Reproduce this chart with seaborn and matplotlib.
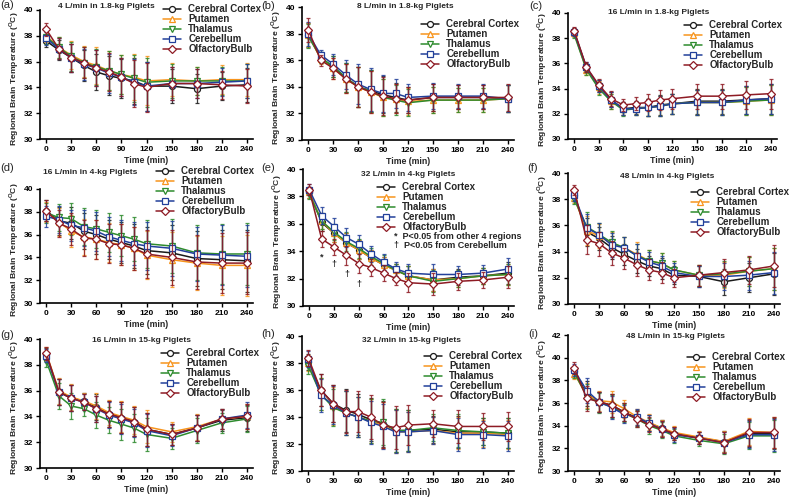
import numpy as np
import pandas as pd
import matplotlib
matplotlib.use("Agg")
import matplotlib.pyplot as plt
from matplotlib.lines import Line2D
import seaborn as sns

# ---------------- data ----------------
times = [0, 15, 30, 45, 60, 75, 90, 105, 120, 150, 180, 210, 240]
xticks = [0, 30, 60, 90, 120, 150, 180, 210, 240]
regions = ["Cerebral Cortex", "Putamen", "Thalamus", "Cerebellum", "OlfactoryBulb"]
titles = ["4 L/min in 1.8-kg Piglets", "8 L/min in 1.8-kg Piglets", "16 L/min in 1.8-kg Piglets",
          "16 L/min in 4-kg Piglets", "32 L/min in 4-kg Piglets", "48 L/min in 4-kg Piglets",
          "16 L/min in 15-kg Piglets", "32 L/min in 15-kg Piglets", "48 L/min in 15-kg Piglets"]
panel_tags = ["(a)", "(b)", "(c)", "(d)", "(e)", "(f)", "(g)", "(h)", "(i)"]

# (a) 4 L/min, 1.8 kg
a_cortex = [37.6, 36.9, 36.3, 35.7, 35.2, 34.9, 34.7, 34.5, 34.1, 34.1, 33.9, 34.1, 34.2]
a_putamen = [38.0, 37.1, 36.5, 36.0, 35.7, 35.3, 35.0, 34.8, 34.5, 34.6, 34.5, 34.6, 34.6]
a_thalamus = [37.9, 37.1, 36.4, 35.9, 35.6, 35.3, 35.0, 34.7, 34.4, 34.5, 34.5, 34.5, 34.5]
a_cerebellum = [37.8, 37.0, 36.3, 35.8, 35.5, 35.1, 34.8, 34.4, 34.1, 34.3, 34.3, 34.4, 34.5]
a_olfactory = [38.5, 37.0, 36.3, 35.9, 35.5, 35.2, 34.8, 34.3, 34.0, 34.3, 34.3, 34.2, 34.1]
a_sd = [0.5, 0.8, 1.1, 1.2, 1.4, 1.5, 1.5, 1.8, 1.9, 1.3, 1.1, 1.1, 1.3]

# (b) 8 L/min, 1.8 kg
b_cortex = [37.9, 36.2, 35.5, 34.7, 34.0, 33.7, 33.4, 33.2, 33.0, 33.2, 33.2, 33.2, 33.1]
b_putamen = [37.9, 36.1, 35.4, 34.6, 34.0, 33.6, 33.2, 33.1, 32.9, 33.0, 33.0, 33.0, 33.1]
b_thalamus = [37.8, 36.2, 35.5, 34.7, 34.0, 33.7, 33.2, 33.0, 32.8, 33.0, 33.0, 33.0, 33.1]
b_cerebellum = [38.0, 36.4, 35.7, 34.9, 34.2, 33.8, 33.5, 33.5, 33.2, 33.3, 33.3, 33.3, 33.1]
b_olfactory = [38.3, 36.0, 35.4, 34.6, 34.0, 33.6, 33.3, 33.1, 33.0, 33.2, 33.2, 33.2, 33.2]
b_sd = [0.9, 0.4, 0.8, 1.1, 1.5, 1.6, 1.4, 1.1, 1.0, 1.0, 0.9, 0.9, 1.0]

# (c) 16 L/min, 1.8 kg
c_cortex = [38.5, 35.6, 34.2, 33.1, 32.4, 32.5, 32.5, 32.7, 32.8, 33.0, 33.0, 33.1, 33.2]
c_putamen = [38.4, 35.5, 34.1, 33.0, 32.4, 32.4, 32.5, 32.6, 32.8, 32.9, 32.9, 33.0, 33.1]
c_thalamus = [38.3, 35.5, 34.0, 33.0, 32.3, 32.4, 32.5, 32.6, 32.8, 32.9, 32.9, 33.0, 33.1]
c_cerebellum = [38.5, 35.7, 34.2, 33.1, 32.4, 32.4, 32.5, 32.6, 32.8, 32.9, 32.9, 33.1, 33.2]
c_olfactory = [38.6, 35.7, 34.3, 33.2, 32.7, 32.8, 32.9, 33.1, 33.2, 33.4, 33.4, 33.5, 33.6]
c_sd = [0.3, 0.4, 0.5, 0.6, 0.5, 0.5, 0.7, 0.8, 0.8, 1.0, 1.0, 1.1, 1.2]

# (d) 16 L/min, 4 kg
d_cortex = [38.1, 37.2, 37.0, 36.3, 36.0, 35.6, 35.3, 35.0, 34.6, 34.4, 33.9, 33.8, 33.7]
d_putamen = [38.0, 37.1, 36.3, 35.8, 35.6, 35.3, 35.1, 34.8, 34.2, 33.8, 33.5, 33.3, 33.3]
d_thalamus = [37.9, 37.5, 37.4, 36.7, 36.5, 36.2, 35.9, 35.6, 35.2, 35.0, 34.4, 34.3, 34.3]
d_cerebellum = [37.6, 37.3, 36.8, 36.6, 36.3, 35.8, 35.5, 35.2, 35.0, 34.8, 34.3, 34.2, 34.1]
d_olfactory = [38.1, 37.0, 36.5, 35.7, 35.6, 35.2, 35.1, 34.8, 34.3, 34.0, 33.6, 33.5, 33.5]
d_sd = [0.9, 1.2, 1.4, 1.6, 1.7, 1.7, 1.8, 1.9, 2.1, 2.4, 2.4, 2.6, 2.7]

# (e) 32 L/min, 4 kg
e_cortex = [38.3, 36.1, 35.3, 34.6, 34.1, 33.5, 33.0, 32.6, 32.2, 31.9, 32.1, 32.2, 32.4]
e_putamen = [38.3, 36.2, 35.3, 34.6, 34.1, 33.5, 33.0, 32.6, 32.2, 31.9, 32.0, 32.2, 32.3]
e_thalamus = [38.2, 36.2, 35.4, 34.7, 34.2, 33.6, 33.1, 32.6, 32.2, 31.8, 32.0, 32.2, 32.3]
e_cerebellum = [38.5, 36.6, 35.8, 35.0, 34.5, 33.8, 33.2, 32.7, 32.4, 32.3, 32.3, 32.4, 32.7]
e_olfactory = [38.5, 34.9, 34.3, 33.7, 33.1, 32.8, 32.4, 32.0, 31.7, 31.6, 31.8, 31.9, 32.1]
e_sd = [0.4, 0.6, 0.6, 0.7, 0.7, 0.6, 0.6, 0.5, 0.7, 0.8, 0.6, 0.6, 0.8]

# (f) 48 L/min, 4 kg
f_cortex = [38.3, 35.5, 35.0, 34.3, 33.8, 33.3, 32.9, 32.7, 32.2, 32.1, 31.7, 32.0, 32.3]
f_putamen = [38.1, 35.6, 35.2, 34.6, 34.3, 33.8, 33.3, 33.1, 32.6, 32.2, 32.2, 32.5, 32.7]
f_thalamus = [38.0, 35.9, 35.3, 34.7, 34.3, 33.7, 33.3, 33.1, 32.6, 32.2, 32.3, 32.5, 32.7]
f_cerebellum = [38.3, 35.8, 35.3, 34.5, 34.3, 33.7, 33.2, 32.9, 32.4, 32.1, 32.1, 32.2, 32.4]
f_olfactory = [38.7, 34.9, 34.6, 33.9, 33.5, 33.0, 32.6, 32.4, 32.0, 32.2, 32.4, 32.6, 32.9]
f_sd = [0.4, 1.1, 0.9, 0.9, 0.8, 0.9, 0.8, 0.8, 0.7, 0.8, 1.0, 1.1, 1.6]

# (g) 16 L/min, 15 kg
g_cortex = [38.8, 35.9, 35.4, 35.2, 34.7, 34.2, 33.9, 33.6, 33.0, 32.6, 33.1, 33.7, 33.9]
g_putamen = [38.9, 36.0, 35.5, 35.2, 34.8, 34.3, 34.0, 33.7, 33.2, 32.8, 33.2, 33.8, 34.0]
g_thalamus = [38.3, 35.6, 34.8, 34.6, 34.1, 33.7, 33.4, 33.1, 32.6, 32.3, 32.9, 33.5, 33.8]
g_cerebellum = [38.7, 35.9, 35.4, 35.1, 34.6, 34.1, 33.8, 33.5, 32.9, 32.5, 33.1, 33.8, 34.1]
g_olfactory = [38.9, 35.9, 35.4, 35.1, 34.6, 34.2, 33.9, 33.6, 33.0, 32.6, 33.1, 33.8, 34.0]
g_sd = [0.5, 1.0, 1.0, 0.6, 1.0, 1.0, 1.2, 1.1, 1.3, 0.8, 1.0, 0.8, 1.0]

# (h) 32 L/min, 15 kg
h_cortex = [38.1, 36.0, 35.0, 34.5, 34.2, 33.8, 33.5, 33.0, 33.0, 33.1, 32.9, 32.9, 32.8]
h_putamen = [38.0, 35.7, 34.8, 34.3, 34.0, 33.7, 33.4, 32.9, 32.9, 33.0, 32.8, 32.8, 32.7]
h_thalamus = [37.8, 35.7, 34.7, 34.3, 34.0, 33.7, 33.6, 33.0, 33.0, 33.2, 33.0, 32.9, 32.8]
h_cerebellum = [38.3, 35.6, 34.9, 34.3, 34.0, 33.6, 33.3, 32.9, 32.9, 33.0, 32.7, 32.7, 32.6]
h_olfactory = [38.4, 36.0, 35.0, 34.4, 34.4, 34.0, 33.4, 33.2, 33.4, 33.5, 33.3, 33.3, 33.3]
h_sd = [0.6, 1.2, 1.4, 1.6, 1.5, 1.6, 1.7, 1.6, 1.5, 1.0, 1.2, 1.0, 1.1]

# (i) 48 L/min, 15 kg
i_cortex = [38.8, 36.8, 36.1, 35.8, 35.2, 34.7, 34.2, 33.8, 33.3, 32.9, 32.6, 33.3, 33.3]
i_putamen = [38.6, 36.7, 36.2, 36.1, 35.5, 34.8, 34.3, 33.8, 33.4, 33.0, 32.6, 33.5, 33.4]
i_thalamus = [38.7, 36.6, 36.0, 35.7, 35.1, 34.6, 34.0, 33.6, 33.1, 32.7, 32.4, 33.1, 33.1]
i_cerebellum = [38.9, 37.1, 36.1, 35.6, 35.0, 34.8, 34.2, 33.7, 33.2, 32.9, 32.5, 33.2, 33.2]
i_olfactory = [39.1, 36.4, 36.1, 35.8, 35.2, 34.6, 34.1, 33.7, 33.3, 32.9, 32.5, 33.4, 33.4]
i_sd = [0.5, 1.1, 0.9, 1.0, 0.8, 0.7, 0.7, 0.7, 0.6, 0.5, 0.9, 1.2, 1.4]

panel_series = [
    [a_cortex, a_putamen, a_thalamus, a_cerebellum, a_olfactory],
    [b_cortex, b_putamen, b_thalamus, b_cerebellum, b_olfactory],
    [c_cortex, c_putamen, c_thalamus, c_cerebellum, c_olfactory],
    [d_cortex, d_putamen, d_thalamus, d_cerebellum, d_olfactory],
    [e_cortex, e_putamen, e_thalamus, e_cerebellum, e_olfactory],
    [f_cortex, f_putamen, f_thalamus, f_cerebellum, f_olfactory],
    [g_cortex, g_putamen, g_thalamus, g_cerebellum, g_olfactory],
    [h_cortex, h_putamen, h_thalamus, h_cerebellum, h_olfactory],
    [i_cortex, i_putamen, i_thalamus, i_cerebellum, i_olfactory],
]
panel_sd = [a_sd, b_sd, c_sd, d_sd, e_sd, f_sd, g_sd, h_sd, i_sd]

# significance marks in panel (e): (time, temperature, symbol)
e_marks = [(15, 33.55, "*"), (30, 33.05, "\u2020"), (45, 32.3, "\u2020"), (60, 31.55, "\u2020")]
e_notes = ["*  P<0.05 from other 4 regions", "\u2020  P<0.05 from Cerebellum"]

# ---------------- style ----------------
colors = ["#1a1a1a", "#F7941D", "#2E8B2E", "#22409A", "#8E1B24"]
markers = ["o", "^", "v", "s", "D"]
msizes = [4.3, 4.6, 4.6, 4.3, 3.8]

sns.set_style("ticks")
plt.rcParams["font.family"] = ["Liberation Sans", "DejaVu Sans"]
plt.rcParams["mathtext.fontset"] = "custom"
plt.rcParams["mathtext.rm"] = "Liberation Sans:bold"
plt.rcParams["mathtext.bf"] = "Liberation Sans:bold"

W, H = 790, 498
fig = plt.figure(figsize=(W / 100, H / 100), dpi=100)

# layout in pixels (left, top, right, bottom)
axes_px = [(40, 10, 253, 139), (302, 7, 514, 140), (568, 13, 777, 139),
           (40, 189, 253, 303), (303, 169, 514, 306), (568, 173, 780, 304),
           (40, 339, 253, 468), (302, 336, 514, 471), (568, 335, 780, 471)]
legend_px = [(163, 9), (421, 24), (684, 25), (156, 171), (377, 187), (691, 192),
             (161, 353), (424, 356), (687, 357)]
title_px = [(106, 6), (405, 7), (659, 13), (90, 172), (408, 174), (667, 176),
            (142, 340), (412, 340), (675, 336)]
tag_px = [(0, 5), (261, 6), (529, 6), (0, 168), (261, 168), (527, 168),
          (0, 335), (261, 334), (528, 334)]
ylims = [(30, 40)] * 8 + [(30, 42)]

handles = [Line2D([], [], color=c, marker=m, ms=ms, mfc="white", mec=c, mew=0.9, lw=1.1)
           for c, m, ms in zip(colors, markers, msizes)]

for k in range(9):
    l, t, r, b = axes_px[k]
    ax = fig.add_axes([l / W, 1 - b / H, (r - l) / W, (b - t) / H])
    for j, reg in enumerate(regions):
        vals = panel_series[k][j]
        ax.errorbar(times, vals, yerr=panel_sd[k], fmt="none", ecolor=colors[j],
                    elinewidth=0.9, capsize=1.6, capthick=0.9, alpha=0.85, zorder=2 + j)
        df = pd.DataFrame({"time": times, "temp": vals})
        sns.lineplot(data=df, x="time", y="temp", ax=ax, color=colors[j], marker=markers[j],
                     markersize=msizes[j], mfc="white", mec=colors[j], mew=0.9, lw=1.1,
                     errorbar=None, zorder=3 + j)
    ax.set_xlim(-7.5, 247.5)
    ax.set_ylim(*ylims[k])
    ax.set_xticks(xticks)
    ax.set_yticks(np.arange(ylims[k][0], ylims[k][1] + 0.1, 2))
    sns.despine(ax=ax)
    for s in ["left", "bottom"]:
        ax.spines[s].set_linewidth(1.2)
        ax.spines[s].set_color("black")
    ax.tick_params(axis="both", length=3, width=1, pad=2, labelsize=6, colors="black")
    for lab in ax.get_xticklabels() + ax.get_yticklabels():
        lab.set_fontweight("bold")
    ax.set_xlabel("Time (min)", fontsize=6.3, fontweight="bold", labelpad=2)
    ax.set_ylabel(r"Regional Brain Temperature ($^{\mathregular{O}}$C)", fontsize=6.1,
                  fontweight="bold")
    ax.yaxis.set_label_coords(-19 / (r - l), 0.47)

    hx, ry = legend_px[k]
    ax.legend(handles, regions, loc="upper left",
              bbox_to_anchor=(hx / W, 1 - (ry - 5) / H), bbox_transform=fig.transFigure,
              frameon=False, borderpad=0, borderaxespad=0, handlelength=1.9,
              handletextpad=0.7, labelspacing=0.0,
              prop={"weight": "bold", "size": 7})

    tx, ty = title_px[k]
    fig.text(tx / W, 1 - ty / H, titles[k], ha="center", va="center", fontsize=6,
             fontweight="bold")
    gx, gy = tag_px[k]
    fig.text(gx / W, 1 - gy / H, panel_tags[k], ha="left", va="center", fontsize=8)

    if k == 4:
        for (tm, yv, sym) in e_marks:
            ax.text(tm, yv, sym, ha="center", va="center", fontsize=6.5, fontweight="bold")
        fig.text(394 / W, 1 - 236 / H, e_notes[0], ha="left", va="center", fontsize=6.5,
                 fontweight="bold")
        fig.text(394 / W, 1 - 245 / H, e_notes[1], ha="left", va="center", fontsize=6.5,
                 fontweight="bold")

fig.savefig("out.png", dpi=100)
